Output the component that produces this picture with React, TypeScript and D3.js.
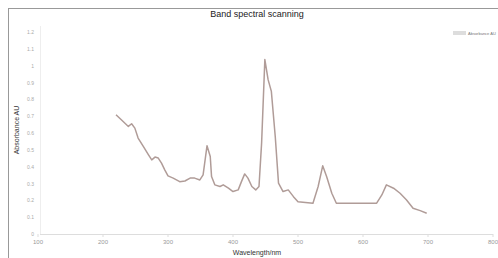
import React from 'react'
import * as d3 from 'd3'

const wavelengths = [220, 231, 239, 244, 249, 254, 262, 270, 275, 280, 285, 290, 295, 300, 308, 318, 326, 334, 341, 349, 354, 360, 365, 367, 372, 380, 385, 393, 400, 408, 413, 418, 423, 429, 435, 440, 444, 449, 454, 459, 465, 470, 477, 485, 493, 500, 523, 531, 538, 544, 552, 559, 580, 600, 621, 629, 636, 647, 657, 667, 677, 688, 698]
const absorbance = [0.708, 0.668, 0.639, 0.655, 0.629, 0.57, 0.52, 0.47, 0.44, 0.457, 0.451, 0.421, 0.381, 0.345, 0.332, 0.311, 0.315, 0.332, 0.332, 0.321, 0.351, 0.524, 0.46, 0.341, 0.292, 0.282, 0.292, 0.272, 0.252, 0.262, 0.311, 0.357, 0.332, 0.282, 0.262, 0.282, 0.54, 1.036, 0.917, 0.847, 0.579, 0.302, 0.252, 0.262, 0.222, 0.192, 0.183, 0.282, 0.405, 0.341, 0.242, 0.183, 0.183, 0.183, 0.183, 0.232, 0.292, 0.272, 0.242, 0.202, 0.153, 0.139, 0.123]

const xTicks = [100, 200, 300, 400, 500, 600, 700, 800]
const yTicks = [0, 0.1, 0.2, 0.3, 0.4, 0.5, 0.6, 0.7, 0.8, 0.9, 1, 1.1, 1.2]

export default function App() {
  const x = d3.scaleLinear().domain([100, 800]).range([38, 493])
  const y = d3.scaleLinear().domain([0, 1.2]).range([234, 32])

  const pts: [number, number][] = wavelengths.map((w, i) => [w, absorbance[i]])
  const line = d3.line<[number, number]>()
    .x(d => x(d[0]))
    .y(d => y(d[1]))

  return (
    <svg width={498} height={258} style={{ position: 'absolute', left: 0, top: 0, background: '#fff' }}
      fontFamily="Liberation Sans, Arial, sans-serif">
      <rect x={8.5} y={8.5} width={700} height={400} fill="none" stroke="#999" />
      <text x={257} y={17} textAnchor="middle" fontSize={9} fill="#222">Band spectral scanning</text>

      {/* axes */}
      <line x1={40} x2={493} y1={234.5} y2={234.5} stroke="#ddd" />
      <line x1={40.5} x2={40.5} y1={26} y2={234} stroke="#eee" />
      {xTicks.map(t => (
        <g key={t}>
          <line x1={x(t)} x2={x(t)} y1={234} y2={237} stroke="#ddd" />
          <text x={x(t)} y={244} textAnchor="middle" fontSize={6} fill="#999">{t}</text>
        </g>
      ))}
      {yTicks.map(t => (
        <text key={t} x={34} y={y(t) + 2} textAnchor="end" fontSize={5} fill="#aaa">{d3.format('.1~f')(t)}</text>
      ))}

      <text transform="translate(19,130) rotate(-90)" textAnchor="middle" fontSize={7} fill="#333">Absorbance AU</text>
      <text x={257} y={255} textAnchor="middle" fontSize={7} fill="#333">Wavelength/nm</text>

      <path d={line(pts) || ''} fill="none" stroke="#b09c98" strokeWidth={1.5} strokeLinejoin="round" />

      {/* legend */}
      <rect x={453} y={31} width={13} height={4} fill="#ddd" />
      <text x={468} y={34.5} fontSize={4} fill="#777">Absorbance AU</text>
    </svg>
  )
}
